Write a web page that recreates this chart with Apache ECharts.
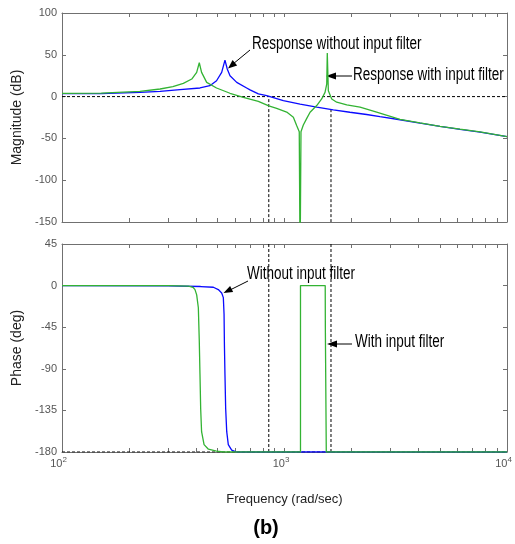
<!DOCTYPE html>
<html>
<head>
<meta charset="utf-8">
<title>Bode plot (b)</title>
<script src="https://cdn.jsdelivr.net/npm/echarts@6/dist/echarts.min.js"></script>
<style>
html, body { margin: 0; padding: 0; background: #fff; }
#bode { width: 515px; height: 544px; }
</style>
</head>
<body>
<div id="bode"></div>
<script>
// frequencies in rad/sec
var blueMagFreq = [100, 150, 224, 276, 339, 417, 462, 495, 522, 540, 553, 569, 610, 676, 700, 763, 832, 988, 1175, 1396, 1657, 1968, 2339, 2685, 3304, 4064, 5000, 6151, 7568, 10000];
var blueMagDb   = [3.5, 3.6, 5.1, 6.3, 8.3, 10.3, 13, 19, 29, 43.7, 33, 25, 17, 10.3, 8.0, 3.2, 1.2, -4.8, -8.9, -12.7, -15.8, -18.7, -21.4, -24, -27.7, -31.8, -35.7, -39.3, -42.5, -48];

var greenMagFreq = [100, 150, 224, 276, 315, 351, 383, 403, 414, 424, 447, 495, 569, 653, 763, 850, 922, 1023, 1096, 1134, 1165, 1175, 1186, 1215, 1259, 1303, 1396, 1469, 1521, 1548, 1557, 1574, 1630, 1717, 1905, 2185, 2595, 3304, 4064, 5000, 6151, 7568, 10000];
var greenMagDb   = [3.8, 4.2, 6.3, 9.1, 11.9, 15.9, 21, 29, 40.5, 29, 17, 10.3, 4, -0.8, -5.6, -11, -14, -18.5, -24.6, -34.5, -42, -200, -42, -34, -26, -18.7, -10.7, -2.8, 5, 15, 52, 7, -2.8, -6.7, -9.9, -12.7, -18.7, -27.2, -31.5, -35.5, -39, -42.3, -48];

var bluePhaseFreq = [100, 300, 420, 479, 504, 522, 531, 535, 537, 540, 544, 550, 559, 579, 610, 10000];
var bluePhaseDeg  = [0, -0.3, -1, -1.8, -4.3, -8, -13, -31, -64, -96, -133, -158, -172, -178, -180, -180];

var greenPhaseFreq = [100, 300, 370, 388, 396, 403, 410, 414, 417, 420, 424, 435, 455, 495, 531, 1180, 1180, 1524, 1526, 1539, 1541, 10000];
var greenPhaseDeg  = [0, 0, -0.5, -1.8, -4.3, -10, -24, -60, -96, -133, -158, -172, -177, -179, -180, -180, 0, 0, -44, -46, -180, -180];

// margin markers (dashed)
var marginFreq = [850, 1618];
var marginMagStart = [-3, -15];

var decadeTicks = [100, 1000, 10000];
var logTicks = [100, 200, 300, 400, 500, 600, 700, 800, 900, 1000, 2000, 3000, 4000, 5000, 6000, 7000, 8000, 9000, 10000];

var frameColor = '#707070';
var labelColor = '#555';
var blue = '#0a0aff';
var green = '#33b333';
var font = 'Liberation Sans';

function pairs(xs, ys) {
    return xs.map(function (x, i) { return [x, ys[i]]; });
}

function xAxisOf(grid, pos, labels) {
    return {
        gridIndex: grid,
        type: 'log',
        logBase: 10,
        min: 100,
        max: 10000,
        position: pos,
        axisLine: { onZero: false, lineStyle: { color: frameColor, width: 1 } },
        axisTick: { inside: true, length: 4, customValues: logTicks, lineStyle: { color: frameColor } },
        axisLabel: labels ? {
            margin: 4,
            customValues: decadeTicks,
            showMinLabel: true,
            showMaxLabel: true,
            formatter: function (v) {
                return '{b|10}{s|' + Math.round(Math.log10(v)) + '}';
            },
            rich: {
                b: { fontSize: 11, fontFamily: font, color: labelColor, lineHeight: 11, padding: [4, 0, 0, 0] },
                s: { fontSize: 8, fontFamily: font, color: labelColor, lineHeight: 8, verticalAlign: 'top', padding: [0, 7, 0, 0] }
            }
        } : { show: false },
        splitLine: { show: false },
        minorSplitLine: { show: false }
    };
}

function yAxisOf(grid, pos, min, max, step, name) {
    return {
        gridIndex: grid,
        type: 'value',
        min: min,
        max: max,
        interval: step,
        position: pos,
        name: name || '',
        nameLocation: 'middle',
        nameGap: 33,
        nameTextStyle: { fontSize: 14, fontFamily: font, color: '#222' },
        axisLine: { show: true, onZero: false, lineStyle: { color: frameColor, width: 1 } },
        axisTick: { show: true, inside: true, length: 4, lineStyle: { color: frameColor } },
        axisLabel: pos === 'left' ? { margin: 5, fontSize: 11, fontFamily: font, color: labelColor } : { show: false },
        splitLine: { show: false }
    };
}

function dashed(xi, yi, data) {
    return {
        type: 'line', xAxisIndex: xi, yAxisIndex: yi, data: data,
        symbol: 'none', silent: true, z: 1,
        lineStyle: { color: '#000', width: 1, type: [3, 2] }
    };
}

function curve(xi, yi, data, color) {
    return {
        type: 'line', xAxisIndex: xi, yAxisIndex: yi, data: data,
        symbol: 'none', clip: true, z: 3,
        lineStyle: { color: color, width: 1.3 }
    };
}

var note = function (x, y, text) {
    return {
        type: 'text', x: x, y: y, scaleX: 0.75,
        style: {
            text: text, fill: '#000', font: '18px "Liberation Sans"',
            align: 'left', verticalAlign: 'middle', textAlign: 'left', textVerticalAlign: 'middle'
        }
    };
};
var stem = function (x1, y1, x2, y2) {
    return { type: 'line', shape: { x1: x1, y1: y1, x2: x2, y2: y2 }, style: { stroke: '#000', lineWidth: 1 } };
};
var head = function (pts) {
    return { type: 'polygon', shape: { points: pts }, style: { fill: '#000' } };
};

var option = {
    backgroundColor: '#fff',
    animation: false,
    grid: [
        { left: 62, right: 8, top: 13, height: 209, outerBoundsMode: 'none', containLabel: false },
        { left: 62, right: 8, top: 244, height: 208, outerBoundsMode: 'none', containLabel: false }
    ],
    xAxis: [
        xAxisOf(0, 'bottom', false),
        xAxisOf(0, 'top', false),
        Object.assign(xAxisOf(1, 'bottom', true), {
            name: 'Frequency (rad/sec)', nameLocation: 'middle', nameGap: 41,
            nameTextStyle: { fontSize: 13, fontFamily: font, color: '#222' }
        }),
        xAxisOf(1, 'top', false)
    ],
    yAxis: [
        yAxisOf(0, 'left', -150, 100, 50, 'Magnitude (dB)'),
        yAxisOf(0, 'right', -150, 100, 50),
        yAxisOf(1, 'left', -180, 45, 45, 'Phase (deg)'),
        yAxisOf(1, 'right', -180, 45, 45)
    ],
    series: [
        dashed(0, 0, [[100, 0], [10000, 0]]),
        dashed(0, 0, [[marginFreq[0], marginMagStart[0]], [marginFreq[0], -150]]),
        dashed(0, 0, [[marginFreq[1], marginMagStart[1]], [marginFreq[1], -150]]),
        dashed(2, 2, [[100, -180], [10000, -180]]),
        dashed(2, 2, [[marginFreq[0], 45], [marginFreq[0], -180]]),
        dashed(2, 2, [[marginFreq[1], 45], [marginFreq[1], -180]]),
        curve(0, 0, pairs(blueMagFreq, blueMagDb), blue),
        curve(0, 0, pairs(greenMagFreq, greenMagDb), green),
        curve(2, 2, pairs(bluePhaseFreq, bluePhaseDeg), blue),
        curve(2, 2, pairs(greenPhaseFreq, greenPhaseDeg), green)
    ],
    graphic: [
        note(252, 44, 'Response without input filter'),
        stem(250, 50, 233, 64), head([[228, 68.5], [232.6, 60], [237.2, 65.4]]),
        note(353, 75, 'Response with input filter'),
        stem(352, 76, 334, 76), head([[326, 76], [336, 72.5], [336, 79.5]]),
        note(247, 274, 'Without input filter'),
        stem(248, 281, 230, 290), head([[223.5, 293], [230.1, 285.9], [233.1, 292.1]]),
        note(355, 342.5, 'With input filter'),
        stem(352, 344, 335, 344), head([[327, 344], [337, 340.5], [337, 347.5]]),
        {
            type: 'text', x: 266, y: 528,
            style: {
                text: '(b)', fill: '#000', font: 'bold 20px "Liberation Sans"',
                align: 'center', verticalAlign: 'middle', textAlign: 'center', textVerticalAlign: 'middle'
            }
        }
    ]
};

var chart = echarts.init(document.getElementById('bode'), null, { renderer: 'canvas' });
chart.setOption(option);
</script>
</body>
</html>
